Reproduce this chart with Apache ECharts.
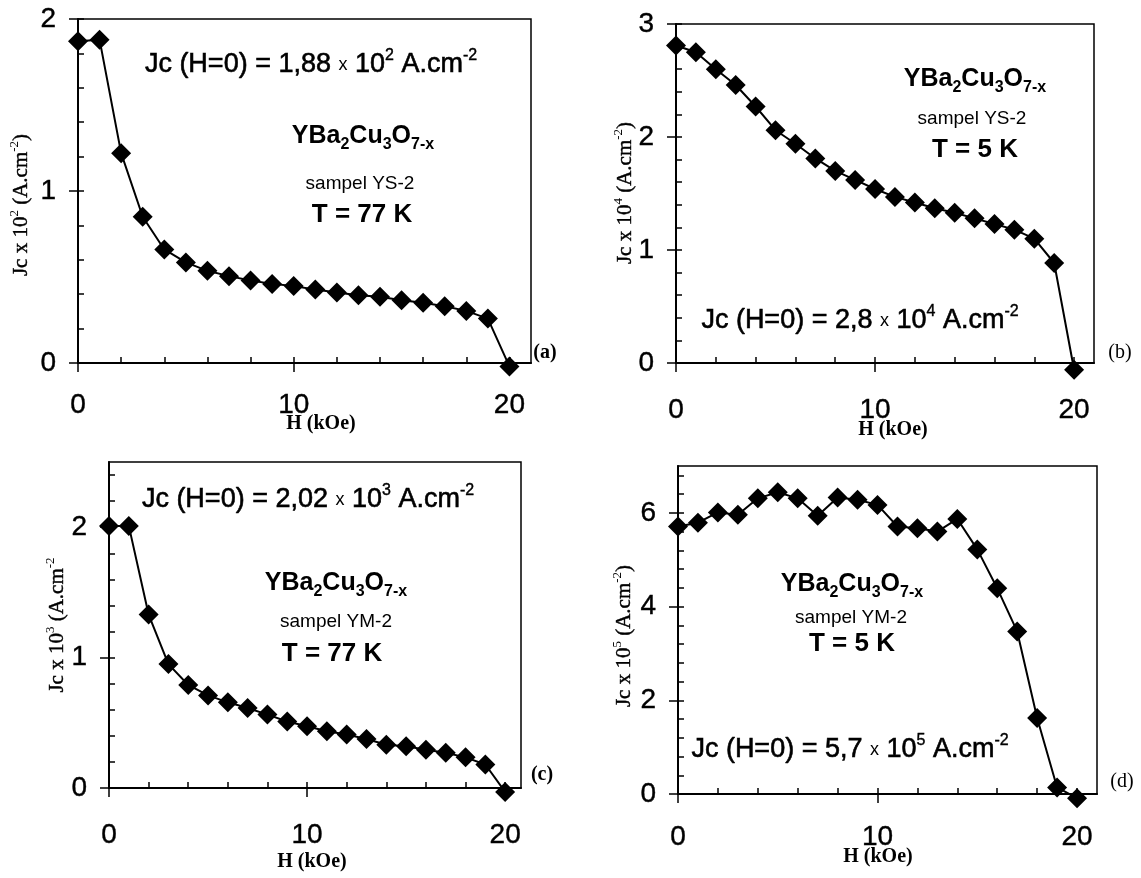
<!DOCTYPE html>
<html>
<head>
<meta charset="utf-8" />
<script src="https://cdn.jsdelivr.net/npm/echarts@6/dist/echarts.min.js"></script>
</head>
<body style="margin:0;background:#fff">
<div id="container" style="width:1141px;height:878px;"></div>
<script type="text/javascript">
// applied field H (kOe), same steps for the four runs
const fieldKOe = [0, 1, 2, 3, 4, 5, 6, 7, 8, 9, 10, 11, 12, 13, 14, 15, 16, 17, 18, 19, 20];
// Jc values (already divided by the power of ten on each axis)
const jcYS2_77K = [1.87, 1.88, 1.22, 0.85, 0.66, 0.585, 0.536, 0.505, 0.48, 0.46, 0.447, 0.427, 0.41, 0.394, 0.385, 0.365, 0.35, 0.33, 0.303, 0.258, -0.02];
const jcYS2_5K = [2.81, 2.75, 2.60, 2.46, 2.27, 2.06, 1.94, 1.81, 1.70, 1.62, 1.54, 1.47, 1.42, 1.37, 1.33, 1.28, 1.23, 1.18, 1.10, 0.885, -0.06];
const jcYM2_77K = [2.01, 2.01, 1.33, 0.95, 0.79, 0.71, 0.657, 0.614, 0.563, 0.51, 0.473, 0.435, 0.41, 0.376, 0.332, 0.32, 0.294, 0.27, 0.235, 0.18, -0.03];
const jcYM2_5K = [5.71, 5.79, 6.01, 5.96, 6.31, 6.44, 6.31, 5.94, 6.33, 6.28, 6.17, 5.71, 5.67, 5.60, 5.87, 5.22, 4.39, 3.47, 1.62, 0.14, -0.09];

// tick marks and tick labels
const xTicks = [0, 2, 4, 6, 8, 10, 12, 14, 16, 18, 20];
const xLabels = [0, 10, 20];
const yTicksA = [0, 0.2, 0.4, 0.6, 0.8, 1, 1.2, 1.4, 1.6, 1.8, 2];
const yLabelsA = [0, 1, 2];
const yTicksB = [0, 0.2, 0.4, 0.6, 0.8, 1, 1.2, 1.4, 1.6, 1.8, 2, 2.2, 2.4, 2.6, 2.8, 3];
const yLabelsB = [0, 1, 2, 3];
const yTicksC = [0, 0.2, 0.4, 0.6, 0.8, 1, 1.2, 1.4, 1.6, 1.8, 2, 2.2, 2.4];
const yLabelsC = [0, 1, 2];
const yTicksD = [0, 0.4, 0.8, 1.2, 1.6, 2, 2.4, 2.8, 3.2, 3.6, 4, 4.4, 4.8, 5.2, 5.6, 6, 6.4, 6.8];
const yLabelsD = [0, 2, 4, 6];

const SANS = '"Liberation Sans", Arial, sans-serif';
const SERIF = '"Liberation Serif", "Times New Roman", serif';

var dom = document.getElementById('container');
var myChart = echarts.init(dom, null, { renderer: 'canvas' });

const panels = [
    { grid: { left: 78, top: 19, width: 453, height: 344 }, xMax: 21, yMax: 2, data: jcYS2_77K, yTicks: yTicksA, yLabels: yLabelsA, xMargin: 28 },
    { grid: { left: 676, top: 24, width: 418, height: 339 }, xMax: 21, yMax: 3, data: jcYS2_5K, yTicks: yTicksB, yLabels: yLabelsB, xMargin: 33 },
    { grid: { left: 109, top: 462, width: 412, height: 326 }, xMax: 20.8, yMax: 2.5, data: jcYM2_77K, yTicks: yTicksC, yLabels: yLabelsC, xMargin: 33 },
    { grid: { left: 678, top: 466, width: 419, height: 328 }, xMax: 21, yMax: 7, data: jcYM2_5K, yTicks: yTicksD, yLabels: yLabelsD, xMargin: 29 }
];

// axis with line + short inner ticks
function minorAxis(g, max, ticks, pos) {
    return {
        gridIndex: g, type: 'value', position: pos, min: 0, max: max,
        axisLine: { show: true, onZero: false, lineStyle: { color: '#000', width: 2 } },
        axisTick: { show: true, inside: true, length: 6, customValues: ticks, lineStyle: { color: '#000', width: 1.5 } },
        axisLabel: { show: false },
        splitLine: { show: false }
    };
}
// axis carrying the labels + outer ticks at the labelled values
function majorAxis(g, max, labels, pos, margin) {
    return {
        gridIndex: g, type: 'value', position: pos, min: 0, max: max,
        axisLine: { show: false, onZero: false },
        axisTick: { show: true, inside: false, length: 9, customValues: labels, lineStyle: { color: '#000', width: 1.5 } },
        axisLabel: {
            show: true, customValues: labels, margin: margin, fontSize: 28, fontFamily: SANS, color: '#000',
            textBorderColor: '#000', textBorderWidth: 0.4
        },
        splitLine: { show: false }
    };
}

var grids = [], xAxes = [], yAxes = [], series = [];
panels.forEach(function (p, i) {
    grids.push(Object.assign({ show: true, borderColor: '#000', borderWidth: 1.5, backgroundColor: '#fff', containLabel: false, outerBoundsMode: 'none' }, p.grid));
    xAxes.push(minorAxis(i, p.xMax, xTicks, 'bottom'));
    xAxes.push(majorAxis(i, p.xMax, xLabels, 'bottom', p.xMargin));
    yAxes.push(minorAxis(i, p.yMax, p.yTicks, 'left'));
    yAxes.push(majorAxis(i, p.yMax, p.yLabels, 'left', 22));
    series.push({
        type: 'line',
        xAxisIndex: i * 2,
        yAxisIndex: i * 2,
        clip: false,
        symbol: 'diamond',
        symbolSize: 20,
        itemStyle: { color: '#000' },
        lineStyle: { color: '#000', width: 2 },
        data: fieldKOe.map(function (h, k) { return [h, p.data[k]]; })
    });
});

const annoRich = {
    t: { fontSize: 27, fontFamily: SANS, lineHeight: 34, stroke: '#000', lineWidth: 0.6 },
    s: { fontSize: 18, fontFamily: SANS, lineHeight: 34 },
    p: { fontSize: 16, fontFamily: SANS, lineHeight: 16, verticalAlign: 'top', stroke: '#000', lineWidth: 0.4 }
};
const formulaRich = {
    b: { fontSize: 25, fontFamily: SANS, fontWeight: 'bold', lineHeight: 34 },
    u: { fontSize: 16, fontFamily: SANS, fontWeight: 'bold', lineHeight: 16, verticalAlign: 'bottom' }
};
const nameRich = {
    n: { fontSize: 21, fontFamily: SERIF, lineHeight: 26, stroke: '#000', lineWidth: 0.4 },
    p: { fontSize: 13, fontFamily: SERIF, lineHeight: 13, verticalAlign: 'top' }
};

function txt(x, y, text, extra) {
    return {
        type: 'text', x: x, y: y, z: 10,
        rotation: (extra && extra.rotation) || 0,
        style: Object.assign({
            text: text, fill: '#000',
            align: 'center', verticalAlign: 'middle',
            textAlign: 'center', textVerticalAlign: 'middle'
        }, extra && extra.style)
    };
}
function jcText(x, y, val, pow) {
    return txt(x, y, '{t|Jc (H=0) = ' + val + ' }{s|x}{t| 10}{p|' + pow + '}{t| A.cm}{p|-2}', { style: { rich: annoRich, fontFamily: SANS } });
}
function formula(x, y) {
    return txt(x, y, '{b|YBa}{u|2}{b|Cu}{u|3}{b|O}{u|7-x}', { style: { rich: formulaRich, fontFamily: SANS } });
}
function sample(x, y, name) {
    return txt(x, y, name, { style: { font: '19px ' + SANS } });
}
function temp(x, y, t) {
    return txt(x, y, t, { style: { font: 'bold 26px ' + SANS } });
}
function yName(x, y, pow, closed) {
    return txt(x, y, '{n|Jc x 10}{p|' + pow + '}{n| (A.cm}{p|-2}' + (closed ? '{n|)}' : ''), { rotation: Math.PI / 2, style: { rich: nameRich, fontFamily: SERIF } });
}
function xName(x, y) {
    return txt(x, y, 'H (kOe)', { style: { font: 'bold 20px ' + SERIF } });
}
function tag(x, y, t, bold) {
    return txt(x, y, t, { style: { font: (bold ? 'bold ' : '') + '20px ' + SERIF } });
}

var graphics = [
    // (a)
    jcText(311, 65, '1,88', '2'), formula(363, 136), sample(360, 184, 'sampel YS-2'), temp(362, 215, 'T = 77 K'),
    yName(21, 205, '2', true), xName(321, 424), tag(545, 353, '(a)', true),
    // (b)
    formula(975, 79), sample(972, 119, 'sampel YS-2'), temp(975, 150, 'T = 5 K'), jcText(860, 321, '2,8', '4'),
    yName(625, 193, '4', true), xName(893, 430), tag(1120, 353, '(b)', false),
    // (c)
    jcText(308, 500, '2,02', '3'), formula(336, 583), sample(336, 622, 'sampel YM-2'), temp(332, 654, 'T = 77 K'),
    yName(57, 625, '3', false), xName(312, 862), tag(542, 775, '(c)', true),
    // (d)
    formula(852, 584), sample(851, 618, 'sampel YM-2'), temp(852, 644, 'T = 5 K'), jcText(850, 750, '5,7', '5'),
    yName(624, 636, '5', true), xName(878, 857), tag(1122, 782, '(d)', false)
];

var option = {
    animation: false,
    backgroundColor: '#fff',
    grid: grids,
    xAxis: xAxes,
    yAxis: yAxes,
    series: series,
    graphic: graphics
};

if (option && typeof option === 'object') {
    myChart.setOption(option);
}
window.addEventListener('resize', myChart.resize);
</script>
</body>
</html>
